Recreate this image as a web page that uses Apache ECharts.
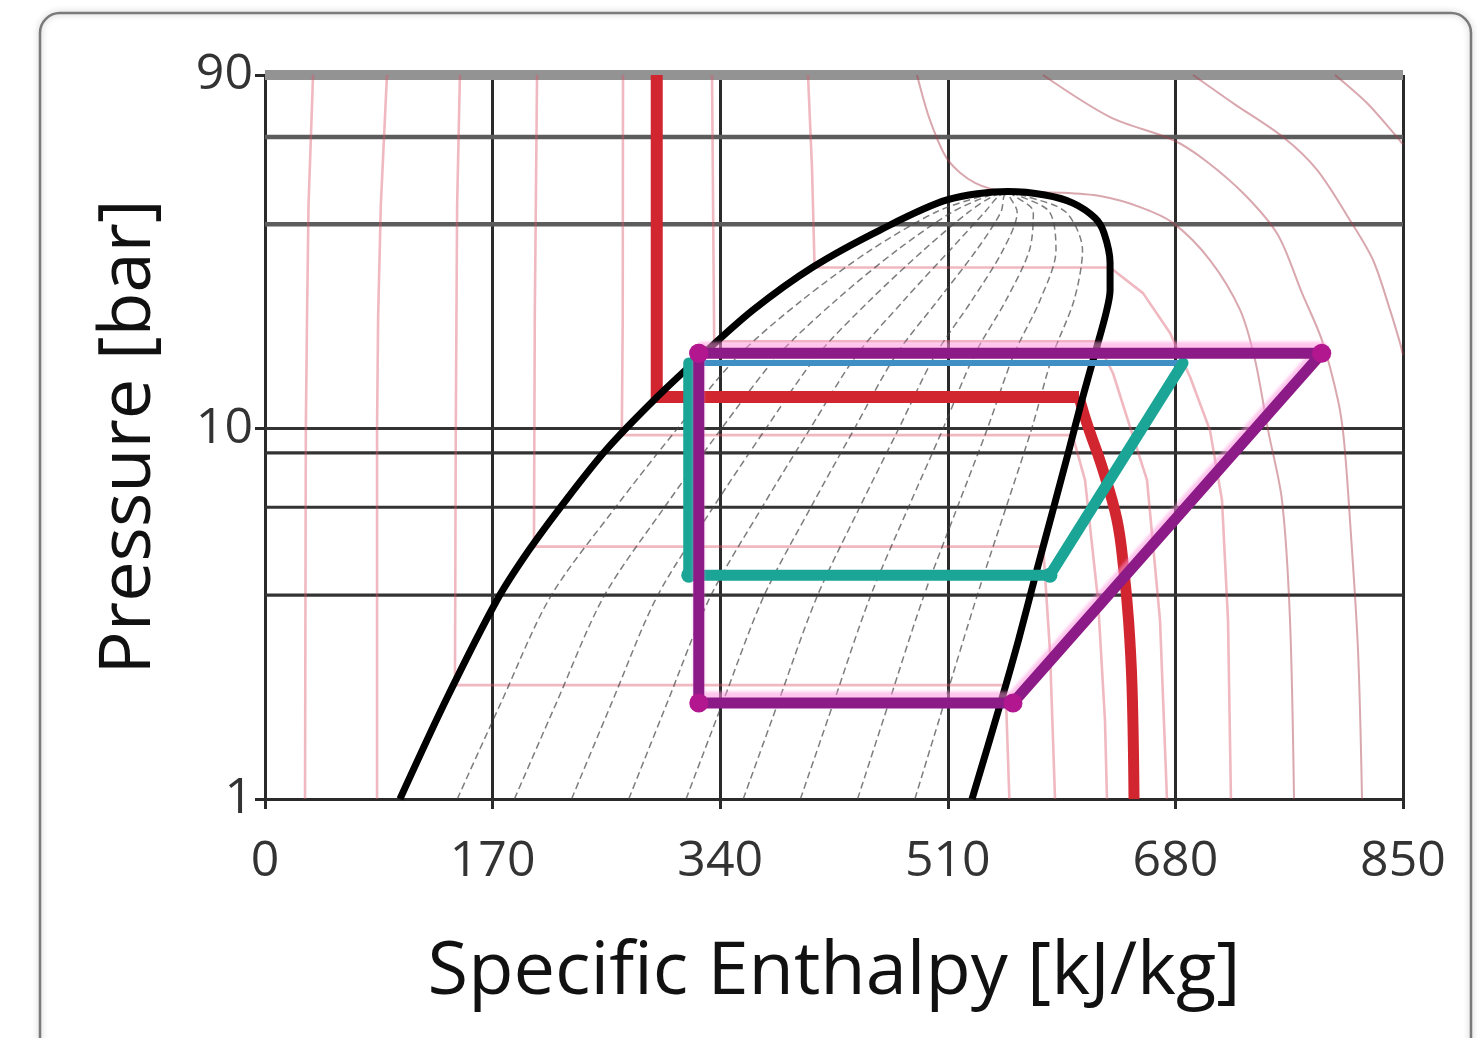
<!DOCTYPE html>
<html><head><meta charset="utf-8">
<script src="https://cdn.jsdelivr.net/npm/echarts@6/dist/echarts.min.js"></script>
<style>html,body{margin:0;padding:0;background:#fff;}#chart{width:1477px;height:1038px;}</style>
</head><body><div id="chart"></div>
<script>
// ---- axis ticks ----
const xTicks = [0, 170, 340, 510, 680, 850];
const yTickLabels = [1, 10, 90];
const pressureGridLines = [61.2, 35.6, 10, 8.6, 6.13, 3.55];

// ---- saturation dome [h, p] ----
const saturationDome = [[100.8,1],[135.2,1.85],[173.3,3.444],[197.2,4.699],[224.8,6.412],[254.7,8.749],[290.6,11.94],[326.4,15.79],[364.5,20.89],[409.3,27.29],[459.4,34.34],[509.4,41.4],[555,43.6],[582.6,42.68],[603.5,40.6],[620.0,37.0],[626.7,33.7],[631.2,28.0],[631.2,23.6],[628.2,20.5],[620.0,15.99],[610.2,11.94],[600.5,8.75],[588.6,6.03],[575.9,4.07],[562.8,2.686],[549.7,1.83],[528.1,1]];
const criticalPoint = [555, 43.6];

// ---- constant-quality lines: h at each pressure level ----
const qualityPressures = [1, 1.83, 3.51, 6.14, 10, 15.8, 22.2, 30.3, 38.4, 42.4];
const quality01 = [143.6,176.6,213.1,262.0,308.0,354.2,401.1,452.3,501.3,535.8];
const quality02 = [186.3,218.0,252.9,298.5,341.0,383.5,426.5,472.1,513.4,539.9];
const quality03 = [229.0,259.3,292.7,334.9,374.1,412.8,451.9,491.9,525.5,543.9];
const quality04 = [271.7,300.7,332.5,371.4,407.2,442.0,477.3,511.6,537.6,548.0];
const quality05 = [314.5,342.1,372.3,407.8,440.3,471.3,502.7,531.4,549.7,552.0];
const quality06 = [357.2,383.5,412.2,444.3,473.4,500.6,528.1,551.2,561.8,556.0];
const quality07 = [399.9,424.9,452.0,480.7,506.5,529.9,553.5,571.0,573.9,560.0];
const quality08 = [442.6,466.2,491.8,517.2,539.6,559.2,578.9,590.8,586.0,564.1];
const quality09 = [485.4,507.6,531.6,553.6,572.7,588.4,604.3,610.6,598.1,568.1];

// ---- isotherms (faint) [h, p] ----
const isoT1 = [[35.9,90],[32.5,40],[31.4,20],[30.5,10],[29.9,1]];
const isoT2 = [[91.1,90],[86.5,40],[84.5,20],[83.7,10],[83.7,1]];
const isoT3 = [[145.6,90],[143.5,40],[142.5,10],[141.9,2.03],[553.1,2.03],[556,1]];
const isoT4 = [[203.2,90],[201.5,20],[200.9,4.8],[581.2,4.8],[586.3,2.52],[590.1,1]];
const isoT5 = [[267.4,90],[267.2,20],[266.5,9.6],[603.1,9.6],[612.5,7.26],[622.2,3.44],[627.4,1.63],[628.9,1]];
const isoT6 = [[333.9,90],[335.5,17.2],[621.5,17.2],[633.4,14.1],[646.1,10.1],[658.8,7.26],[668.5,3.04],[673.7,1]];
const isoT7 = [[405.6,90],[408.6,50],[410.5,27.2],[631.2,27.2],[655.8,23.2],[676.0,18.1],[690.9,13.8],[705.8,9.9],[714.8,6.41],[719.3,3.04],[721.5,1]];
const isoCritical = [[487.0,90],[496.7,68.0],[510.2,53.0],[530.3,46.0],[555.0,43.6],[593.8,43.3],[623.7,42.4],[653.6,39.6],[678.2,35.9],[705.8,28.5],[728.3,20.9],[739.5,15.3],[749.2,9.9],[759.6,6.41],[765.6,3.04],[768.6,1]];
const isoSuper1 = [[581.1,90],[631.2,69.3],[678.2,60.1],[702.1,53.0],[732.0,42.7],[756.6,33.3],[774.6,23.2],[789.5,17.3],[801.5,11.9],[805.9,9.31],[810.4,5.66],[816.4,2.52],[819.4,1]];
const isoSuper2 = [[693.2,90],[723.0,75.6],[760.4,61.2],[785.8,49.9],[810.4,36.5],[827.6,28.5],[840.3,20.9],[847.8,17.0],[850,15.8]];
const isoSuper3 = [[799.2,90],[823.1,75.6],[845.5,61.2],[850,58.5]];

// ---- highlighted isotherm (red) ----
const redIsotherm = [[292.6,90],[292.6,12.17],[608,12.17],[614,10.3],[625.9,7.73],[636.4,5.66],[641.5,4.15],[645,3.04],[647.6,2.01],[649.1,1]];

// ---- cycles ----
const purpleCycle = [[324,15.96],[789.3,15.96],[558.7,1.817],[324,1.817],[324,15.96]];
const tealCycle = [[685.7,15.03],[586.3,4.02],[316.5,4.02],[316.5,15.03]];
const tealTop = [[316.5,15.03],[685.7,15.03]];

// ---------------------------------------------------------------
const FONT = '"Open Sans", "Noto Sans", sans-serif';
const qualityLines = [quality01,quality02,quality03,quality04,quality05,quality06,quality07,quality08,quality09];
const series = [];

// top band at p = 90
series.push({type:'line', data:[[0,90],[850,90]], clip:false, symbol:'none', silent:true,
  lineStyle:{color:'#939393', width:10}, z:1});
pressureGridLines.forEach(p => {
  series.push({type:'line', data:[[0,p],[850,p]], symbol:'none', silent:true,
    lineStyle:{color: p > 20 ? '#5c5c5c' : '#333', width: p > 20 ? 4.5 : 3.2}, z:1});
});

const pinkStyle = {color:'rgba(220,85,105,0.42)', width:2.6};
[isoT1, isoT2, isoT3, isoT4, isoT5, isoT6, isoT7].forEach(d => {
  series.push({type:'line', data:d, symbol:'none', silent:true, lineStyle:pinkStyle, z:2});
});
[isoCritical, isoSuper1, isoSuper2, isoSuper3].forEach(d => {
  series.push({type:'line', data:d, symbol:'none', silent:true, smooth:0.3,
    lineStyle:{color:'rgba(170,60,75,0.45)', width:2}, z:2});
});

qualityLines.forEach(hs => {
  const d = hs.map((h, i) => [h, qualityPressures[i]]);
  d.push(criticalPoint);
  series.push({type:'line', data:d, symbol:'none', silent:true, smooth:0.3,
    lineStyle:{color:'rgba(70,70,70,0.7)', width:1.5, type:[7,4]}, z:3});
});

series.push({type:'line', data:redIsotherm.slice(0,3), symbol:'none', silent:true,
  lineStyle:{color:'#d1252f', width:12, cap:'butt', join:'miter'}, z:4});
series.push({type:'line', data:redIsotherm.slice(2), symbol:'none', silent:true, smooth:0.4,
  lineStyle:{color:'#d1252f', width:11}, z:4});

series.push({type:'line', data:saturationDome, symbol:'none', silent:true, smooth:0.3,
  lineStyle:{color:'#000', width:7, join:'round'}, z:5});

series.push({type:'line', data:tealTop, symbol:'none', silent:true,
  lineStyle:{color:'#3f8fc4', width:6}, z:6});
series.push({type:'line', data:tealCycle, silent:true, symbol:'circle',
  symbolSize:(v, p) => (p.dataIndex === 1 || p.dataIndex === 2) ? 15 : 0,
  itemStyle:{color:'#1ba597'},
  lineStyle:{color:'#1ba597', width:11, join:'round', cap:'round'}, z:6});

series.push({type:'line', data:purpleCycle, silent:true, symbol:'circle', symbolSize:19,
  itemStyle:{color:'#b3178f'},
  lineStyle:{color:'#8d1b87', width:11, join:'round',
    shadowColor:'rgba(255,150,220,0.55)', shadowBlur:3, shadowOffsetY:-6}, z:7});

const chart = echarts.init(document.getElementById('chart'), null, {renderer:'canvas'});
chart.setOption({
  animation:false,
  backgroundColor:'#fff',
  graphic:[{type:'rect', shape:{x:40, y:13, width:1431, height:1080, r:20}, silent:true,
    style:{fill:'none', stroke:'#7a7a7a', lineWidth:2.5, shadowBlur:6, shadowColor:'rgba(0,0,0,0.25)'}, z:-1}],
  grid:{left:265, right:74, top:75, bottom:239, containLabel:false},
  xAxis:{type:'value', min:xTicks[0], max:xTicks[xTicks.length-1], interval:xTicks[1]-xTicks[0],
    name:'Specific Enthalpy [kJ/kg]', nameLocation:'middle', nameGap:137,
    nameTextStyle:{fontFamily:FONT, fontSize:74, color:'#111'},
    axisLine:{show:true, lineStyle:{color:'#2a2a2a', width:3}},
    axisTick:{show:true, length:10, lineStyle:{color:'#2a2a2a', width:3}},
    axisLabel:{fontFamily:FONT, fontSize:50, color:'#333', margin:38},
    splitLine:{show:true, lineStyle:{color:'#2a2a2a', width:3}}},
  yAxis:{type:'log', logBase:10, min:yTickLabels[0], max:yTickLabels[yTickLabels.length-1],
    name:'Pressure [bar]', nameLocation:'middle', nameGap:100, nameRotate:90,
    nameTextStyle:{fontFamily:FONT, fontSize:72, color:'#111'},
    axisLine:{show:true, lineStyle:{color:'#2a2a2a', width:3}},
    axisTick:{show:true, length:10, lineStyle:{color:'#2a2a2a', width:3}},
    axisLabel:{fontFamily:FONT, fontSize:50, color:'#333', margin:12},
    splitLine:{show:false}, minorTick:{show:false}},
  series: series
});
</script></body></html>
